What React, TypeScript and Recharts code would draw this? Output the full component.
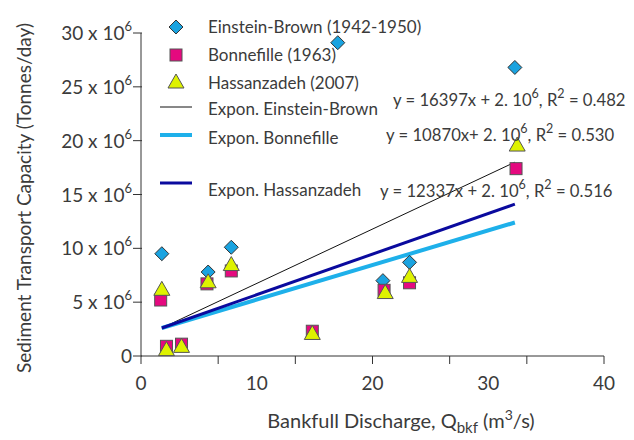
import { ScatterChart, Scatter, XAxis, YAxis } from 'recharts';

// Discharge (m3/s) and transport capacity (x 10^6 tonnes/day)
const einsteinX = [1.8, 5.8, 7.8, 17.0, 20.9, 23.2, 32.3];
const einsteinY = [9.5, 7.8, 10.1, 29.1, 7.0, 8.7, 26.8];
const bonnefilleX = [1.7, 2.2, 3.5, 5.7, 7.8, 14.8, 21.0, 23.2, 32.4];
const bonnefilleY = [5.2, 0.9, 1.1, 6.7, 7.9, 2.3, 6.1, 6.8, 17.4];
const hassanX = [1.8, 2.2, 3.5, 5.8, 7.8, 14.8, 21.1, 23.2, 32.5];
const hassanY = [6.1, 0.5, 0.8, 6.8, 8.4, 2.0, 5.8, 7.3, 19.5];

// fitted trend lines, end points
const trendX = [1.8, 32.3];
const einsteinTrendY = [2.6, 18.0];
const bonnefilleTrendY = [2.6, 12.4];
const hassanTrendY = [2.6, 14.1];

const yTicks = [0, 5, 10, 15, 20, 25, 30];
const xLabelTicks = [0, 10, 20, 30, 40];
const xMarkTicks = [0, 20 / 3, 40 / 3, 20, 80 / 3, 100 / 3, 40];

const equations = [
  { coef: '16397x +', r2: '0.482' },
  { coef: '10870x+', r2: '0.530' },
  { coef: '12337x +', r2: '0.516' },
];

const toPoints = (xs: number[], ys: number[]) => xs.map((x, i) => ({ x, y: ys[i] }));

const TEXT = '#3b3b3b';
const FONT = 'Lato, sans-serif';
const BLUE = '#1aa3e0';
const MAGENTA = '#e5097f';
const YELLOW = '#def200';
const LIGHT_BLUE = '#1eb0ea';
const DARK_BLUE = '#0a0a9e';

const Diamond = ({ cx, cy }: any) => (
  <polygon
    points={`${cx},${cy - 7} ${cx + 7},${cy} ${cx},${cy + 7} ${cx - 7},${cy}`}
    fill={BLUE}
    stroke="#333"
    strokeWidth={1}
  />
);

const Square = ({ cx, cy }: any) => (
  <rect x={cx - 6} y={cy - 6} width={12} height={12} fill={MAGENTA} stroke="#555" strokeWidth={1} />
);

const Triangle = ({ cx, cy }: any) => (
  <polygon
    points={`${cx},${cy - 9} ${cx + 8},${cy + 5} ${cx - 8},${cy + 5}`}
    fill={YELLOW}
    stroke="#555"
    strokeWidth={1}
  />
);

const NoShape = () => <g />;

const YTick = ({ x, y, payload }: any) => (
  <g>
    <line x1={x} x2={x + 9} y1={y} y2={y} stroke="#333" />
    <text x={x - 1} y={y + 7} textAnchor="end" fill={TEXT} fontSize={19} fontFamily={FONT}>
      {payload.value === 0 ? (
        '0'
      ) : (
        <>
          {`${payload.value} x 10`}
          <tspan fontSize={13} dy={-9}>6</tspan>
        </>
      )}
    </text>
  </g>
);

const XTick = ({ x, y, payload }: any) => {
  const v = payload.value;
  const isMark = xMarkTicks.some((t) => Math.abs(t - v) < 1e-6);
  const isLabel = xLabelTicks.includes(v);
  return (
    <g>
      {isMark && <line x1={x} x2={x} y1={y - 8} y2={y} stroke="#333" />}
      {isLabel && (
        <text x={x} y={y + 26} textAnchor="middle" fill={TEXT} fontSize={19} fontFamily={FONT}>
          {v}
        </text>
      )}
    </g>
  );
};

const legendMarkers = [
  { label: 'Einstein-Brown (1942-1950)', y: 27, Shape: Diamond },
  { label: 'Bonnefille (1963)', y: 55, Shape: Square },
  { label: 'Hassanzadeh (2007)', y: 83, Shape: Triangle },
];
const legendLines = [
  { label: 'Expon. Einstein-Brown', y: 107, ty: 109, color: '#111', width: 1 },
  { label: 'Expon. Bonnefille', y: 135, ty: 138, color: LIGHT_BLUE, width: 4 },
  { label: 'Expon. Hassanzadeh', y: 183, ty: 190, color: DARK_BLUE, width: 3 },
];
const equationPos = [
  { x: 393, y: 106 },
  { x: 386, y: 141 },
  { x: 380, y: 197 },
];

export default function App() {
  return (
    <div style={{ position: 'absolute', left: 0, top: 0, width: 634, height: 440, background: '#fff' }}>
      <ScatterChart width={634} height={440} margin={{ top: 33, right: 30, bottom: 54, left: 81 }}>
        <XAxis
          type="number"
          dataKey="x"
          domain={[0, 40]}
          ticks={[...xMarkTicks, 10, 30].sort((a, b) => a - b)}
          interval={0}
          tick={<XTick />}
          tickLine={false}
          axisLine={{ stroke: '#333' }}
          height={30}
        />
        <YAxis
          type="number"
          dataKey="y"
          domain={[0, 30]}
          ticks={yTicks}
          interval={0}
          tick={<YTick />}
          tickLine={false}
          axisLine={{ stroke: '#333' }}
          width={60}
        />
        <Scatter
          data={toPoints(trendX, einsteinTrendY)}
          line={{ stroke: '#111', strokeWidth: 1 }}
          shape={<NoShape />}
          isAnimationActive={false}
        />
        <Scatter
          data={toPoints(trendX, bonnefilleTrendY)}
          line={{ stroke: LIGHT_BLUE, strokeWidth: 4 }}
          shape={<NoShape />}
          isAnimationActive={false}
        />
        <Scatter
          data={toPoints(trendX, hassanTrendY)}
          line={{ stroke: DARK_BLUE, strokeWidth: 3 }}
          shape={<NoShape />}
          isAnimationActive={false}
        />
        <Scatter data={toPoints(einsteinX, einsteinY)} shape={<Diamond />} isAnimationActive={false} />
        <Scatter data={toPoints(bonnefilleX, bonnefilleY)} shape={<Square />} isAnimationActive={false} />
        <Scatter data={toPoints(hassanX, hassanY)} shape={<Triangle />} isAnimationActive={false} />
      </ScatterChart>

      {/* legend, trend equations and axis titles */}
      <svg width={634} height={440} style={{ position: 'absolute', left: 0, top: 0, pointerEvents: 'none' }}>
        {legendMarkers.map(({ label, y, Shape }) => (
          <g key={label}>
            <Shape cx={176} cy={y} />
            <text x={208} y={y + 6} fill={TEXT} fontSize={17} fontFamily={FONT}>{label}</text>
          </g>
        ))}
        {legendLines.map((l) => (
          <g key={l.label}>
            <line x1={160} x2={192} y1={l.y} y2={l.y} stroke={l.color} strokeWidth={l.width} />
            <text x={208} y={l.ty + 6} fill={TEXT} fontSize={17} fontFamily={FONT}>{l.label}</text>
          </g>
        ))}
        {equations.map((e, i) => (
          <text key={i} x={equationPos[i].x} y={equationPos[i].y} fill={TEXT} fontSize={16.7} fontFamily={FONT}>
            {`y = ${e.coef} 2. 10`}
            <tspan fontSize={12.5} dy={-8}>6</tspan>
            <tspan dy={8}>{', R'}</tspan>
            <tspan fontSize={12.5} dy={-8}>2</tspan>
            <tspan dy={8}>{` = ${e.r2}`}</tspan>
          </text>
        ))}
        <text
          transform="translate(31,198) rotate(-90)"
          textAnchor="middle"
          fill={TEXT}
          fontSize={19}
          fontFamily={FONT}
        >
          Sediment Transport Capacity (Tonnes/day)
        </text>
        <text x={401} y={428} textAnchor="middle" fill={TEXT} fontSize={20} fontFamily={FONT}>
          Bankfull Discharge, Q
          <tspan fontSize={15} dy={5}>bkf</tspan>
          <tspan dy={-5}> (m</tspan>
          <tspan fontSize={14} dy={-8}>3</tspan>
          <tspan dy={8}>/s)</tspan>
        </text>
      </svg>
    </div>
  );
}
